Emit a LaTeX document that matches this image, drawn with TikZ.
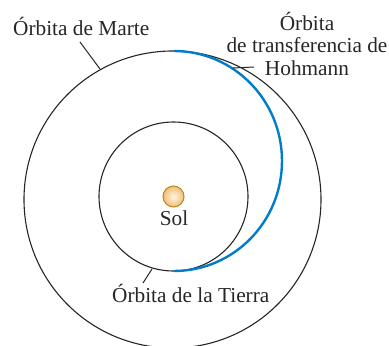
\documentclass[tikz,border=0pt]{standalone}
\usepackage{fontspec}
\setmainfont{Liberation Serif}
\definecolor{orbitblue}{RGB}{0,125,200}
\definecolor{sunedge}{RGB}{185,135,30}
\definecolor{suninner}{RGB}{255,245,225}
\definecolor{sunouter}{RGB}{240,190,120}
\tikzset{
  orbit/.style={draw=black!85, line width=1.1pt},
  transfer/.style={draw=orbitblue, line width=2.4pt},
  leader/.style={draw=black!85, line width=1pt},
  lbl/.style={font=\fontsize{21.3}{22.5}\selectfont, text=black!85, inner sep=0pt},
}
\begin{document}
\begin{tikzpicture}[x=1pt,y=-1pt]
\useasboundingbox (0,0) rectangle (389,346);
% orbits
\coordinate (sun) at (173.5,196.5);
\coordinate (marsc) at (172.5,199.5);
\path[orbit] (marsc) circle[radius=148.5pt];
\path[orbit] (sun) circle[radius=74.5pt];
% transfer orbit
\coordinate (peri) at (174,271);
\path[transfer] (peri) arc[start angle=90, end angle=-90, x radius=108, y radius=110];
% sun
\node[circle, minimum size=21pt, inner sep=0pt, draw=sunedge, line width=1pt,
      inner color=suninner, outer color=sunouter] (sol) at (sun) {};
\node[lbl, anchor=base] (sollbl) at (174,225) {Sol};
% labels
\node[lbl, anchor=base west] (marte) at (13,35) {Órbita de Marte};
\node[lbl, anchor=base, align=center] (hoh) at (307,75) {Órbita\\de transferencia de\\Hohmann};
\node[lbl, anchor=base west] (tierra) at (112,302) {Órbita de la Tierra};
% leaders
\coordinate (m1) at (80,42);
\coordinate (m2) at (100,69);
\path[leader] (m1) -- (m2);
\coordinate (h1) at (254,67);
\coordinate (h2) at (233,68);
\path[leader] (h1) -- (h2);
\coordinate (t1) at (143,283);
\coordinate (t2) at (152,269);
\path[leader] (t1) -- (t2);
\end{tikzpicture}
\end{document}
